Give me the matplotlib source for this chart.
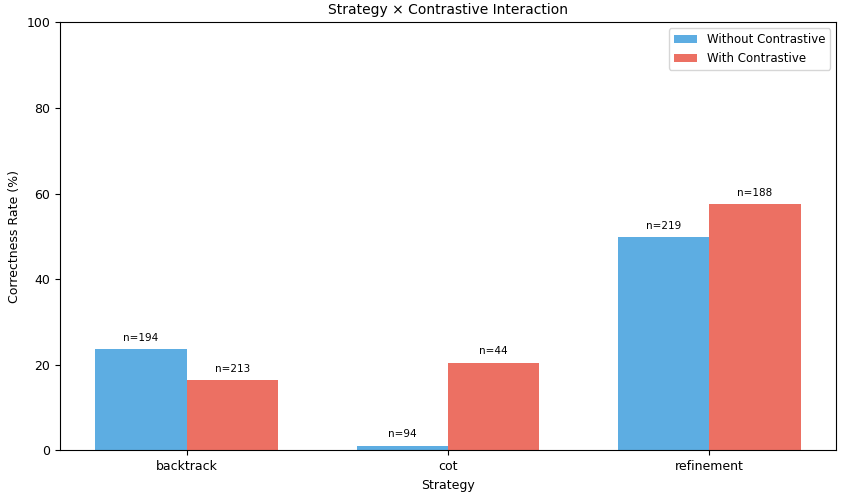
import numpy as np
import matplotlib
matplotlib.use("Agg")
import matplotlib.pyplot as plt

strategies = ["backtrack", "cot", "refinement"]
without_rate = [23.7, 1.06, 49.77]
with_rate = [16.4, 20.45, 57.45]
without_n = [194, 94, 219]
with_n = [213, 44, 188]

fig, ax = plt.subplots(figsize=(8.46, 4.95), dpi=100)
x = np.arange(len(strategies))
w = 0.35

b1 = ax.bar(x - w/2, without_rate, w, label="Without Contrastive", color="#5DADE2")
b2 = ax.bar(x + w/2, with_rate, w, label="With Contrastive", color="#EC7063")

for bars, ns in [(b1, without_n), (b2, with_n)]:
    for bar, n in zip(bars, ns):
        ax.text(bar.get_x() + bar.get_width()/2, bar.get_height() + 1.5, f"n={n}",
                ha="center", va="bottom", fontsize=7.5)

ax.set_xticks(x)
ax.set_xticklabels(strategies)
ax.set_ylim(0, 100)
ax.set_xlabel("Strategy", fontsize=9)
ax.set_ylabel("Correctness Rate (%)", fontsize=9)
ax.set_title("Strategy \u00d7 Contrastive Interaction", fontsize=10)
ax.tick_params(labelsize=9)
ax.legend(fontsize=8.5)

fig.subplots_adjust(left=0.071, right=0.988, top=0.955, bottom=0.09)
fig.savefig("out.png")
